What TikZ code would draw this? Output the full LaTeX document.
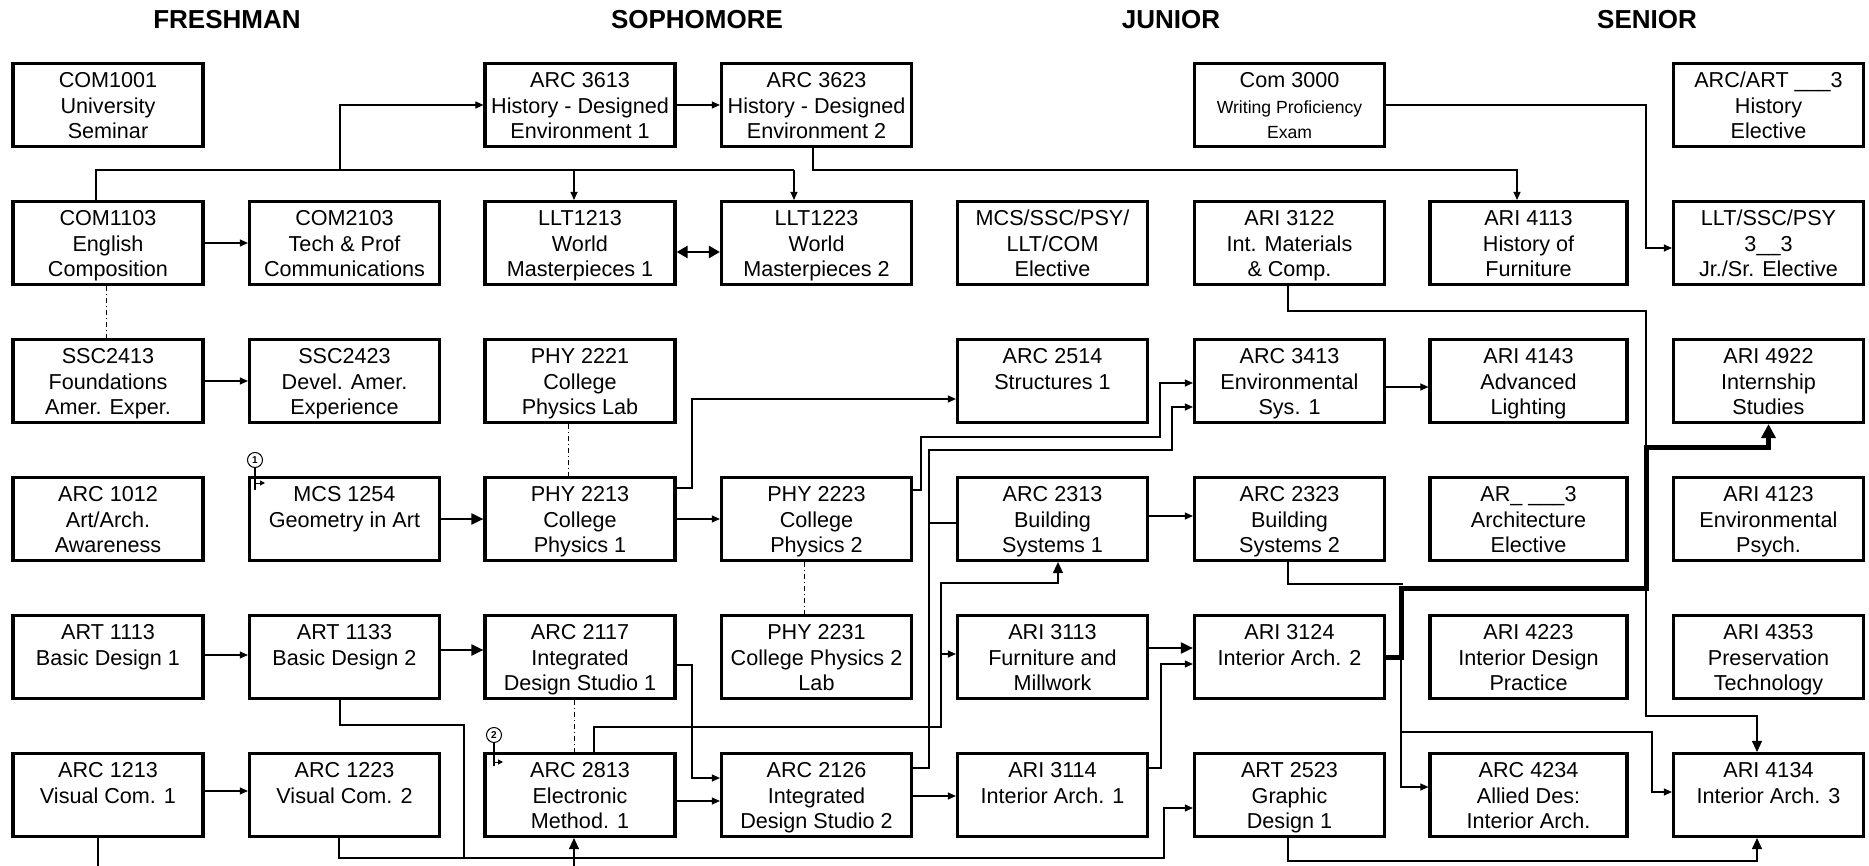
\documentclass[tikz,border=0pt]{standalone}
\usepackage{fontspec}
\setmainfont{Liberation Sans}
\usetikzlibrary{arrows.meta,calc}
\newcommand\crsthree[3]{\rule{0pt}{12pt}#1\\\strut#2\\\strut#3}
\begin{document}
\begin{tikzpicture}[x=0.5pt,y=-0.5pt,
  course/.style={draw,line width=1.6pt,minimum width=95pt,minimum height=40.5pt,inner sep=0pt,align=center,font=\fontsize{10.8}{12.8}\selectfont},
  wide/.style={minimum width=98.5pt},
  hdr/.style={font=\bfseries\fontsize{13}{15}\selectfont},
  ln/.style={line width=0.55pt},
  arw/.style={line width=0.55pt,-{Triangle[length=4pt,width=3.5pt]}},
  arwm/.style={line width=0.55pt,-{Triangle[length=5.5pt,width=5pt]}},
  marw/.style={line width=1pt,-{Triangle[length=6pt,width=5.5pt]}},
  dblarw/.style={line width=1.2pt,{Triangle[length=5.5pt,width=6pt]}-{Triangle[length=5.5pt,width=6pt]}},
  thkarw/.style={line width=2.5pt,-{Triangle[length=7pt,width=7pt]}},
  dd/.style={line width=0.5pt,dash pattern=on 2.5pt off 1.5pt on 0.5pt off 1.5pt},
  circ/.style={circle,draw,line width=0.5pt,inner sep=0pt,minimum size=7.5pt,font=\bfseries\fontsize{5}{6}\selectfont},
  tarw/.style={line width=0.5pt,-{Triangle[length=2.5pt,width=2.5pt]}}
]
\fill[white] (0,0) rectangle (1869,866);
\useasboundingbox (0,0) rectangle (1869,866);
% headers
\node[hdr] (hfr) at (227,20) {FRESHMAN};
\node[hdr] (hso) at (697,20) {SOPHOMORE};
\node[hdr] (hju) at (1171,20) {JUNIOR};
\node[hdr] (hse) at (1647,20) {SENIOR};
% row 1
\node[course] (com1001) at (108,105) {\crsthree{COM1001}{University}{Seminar}};
\node[course] (arc3613) at (580,105) {\crsthree{ARC 3613}{History - Designed}{Environment 1}};
\node[course] (arc3623) at (816.5,105) {\crsthree{ARC 3623}{History - Designed}{Environment 2}};
\node[course] (com3000) at (1289.5,105) {\crsthree{Com 3000}{{\fontsize{8.8}{12.8}\selectfont Writing Proficiency}}{{\fontsize{8.8}{12.8}\selectfont Exam}}};
\node[course] (arcart) at (1768.5,105) {\crsthree{ARC/ART \_\_\_3}{History}{Elective}};
% row 2
\node[course] (com1103) at (108,243) {\crsthree{COM1103}{English}{Composition}};
\node[course] (com2103) at (344.5,243) {\crsthree{COM2103}{Tech \& Prof}{Communications}};
\node[course] (llt1213) at (580,243) {\crsthree{LLT1213}{World}{Masterpieces 1}};
\node[course] (llt1223) at (816.5,243) {\crsthree{LLT1223}{World}{Masterpieces 2}};
\node[course] (mcsel) at (1052.5,243) {\crsthree{MCS/SSC/PSY/}{LLT/COM}{Elective}};
\node[course] (ari3122) at (1289.5,243) {\crsthree{ARI 3122}{Int. Materials}{\& Comp.}};
\node[course,wide] (ari4113) at (1528.5,243) {\crsthree{ARI 4113}{History of}{Furniture}};
\node[course] (lltssc) at (1768.5,243) {\crsthree{LLT/SSC/PSY}{3\_\_3}{Jr./Sr. Elective}};
% row 3
\node[course] (ssc2413) at (108,381) {\crsthree{SSC2413}{Foundations}{Amer. Exper.}};
\node[course] (ssc2423) at (344.5,381) {\crsthree{SSC2423}{Devel. Amer.}{Experience}};
\node[course] (phy2221) at (580,381) {\crsthree{PHY 2221}{College}{Physics Lab}};
\node[course] (arc2514) at (1052.5,381) {\crsthree{ARC 2514}{Structures 1}{}};
\node[course] (arc3413) at (1289.5,381) {\crsthree{ARC 3413}{Environmental}{Sys. 1}};
\node[course,wide] (ari4143) at (1528.5,381) {\crsthree{ARI 4143}{Advanced}{Lighting}};
\node[course] (ari4922) at (1768.5,381) {\crsthree{ARI 4922}{Internship}{Studies}};
% row 4
\node[course] (arc1012) at (108,519) {\crsthree{ARC 1012}{Art/Arch.}{Awareness}};
\node[course] (mcs1254) at (344.5,519) {\crsthree{MCS 1254}{Geometry in Art}{}};
\node[course] (phy2213) at (580,519) {\crsthree{PHY 2213}{College}{Physics 1}};
\node[course] (phy2223) at (816.5,519) {\crsthree{PHY 2223}{College}{Physics 2}};
\node[course] (arc2313) at (1052.5,519) {\crsthree{ARC 2313}{Building}{Systems 1}};
\node[course] (arc2323) at (1289.5,519) {\crsthree{ARC 2323}{Building}{Systems 2}};
\node[course,wide] (arel) at (1528.5,519) {\crsthree{AR\_ \_\_\_3}{Architecture}{Elective}};
\node[course] (ari4123) at (1768.5,519) {\crsthree{ARI 4123}{Environmental}{Psych.}};
% row 5
\node[course] (art1113) at (108,657) {\crsthree{ART 1113}{Basic Design 1}{}};
\node[course] (art1133) at (344.5,657) {\crsthree{ART 1133}{Basic Design 2}{}};
\node[course] (arc2117) at (580,657) {\crsthree{ARC 2117}{Integrated}{Design Studio 1}};
\node[course] (phy2231) at (816.5,657) {\crsthree{PHY 2231}{College Physics 2}{Lab}};
\node[course] (ari3113) at (1052.5,657) {\crsthree{ARI 3113}{Furniture and}{Millwork}};
\node[course] (ari3124) at (1289.5,657) {\crsthree{ARI 3124}{Interior Arch. 2}{}};
\node[course,wide] (ari4223) at (1528.5,657) {\crsthree{ARI 4223}{Interior Design}{Practice}};
\node[course] (ari4353) at (1768.5,657) {\crsthree{ARI 4353}{Preservation}{Technology}};
% row 6
\node[course] (arc1213) at (108,795) {\crsthree{ARC 1213}{Visual Com. 1}{}};
\node[course] (arc1223) at (344.5,795) {\crsthree{ARC 1223}{Visual Com. 2}{}};
\node[course] (arc2813) at (580,795) {\crsthree{ARC 2813}{Electronic}{Method. 1}};
\node[course] (arc2126) at (816.5,795) {\crsthree{ARC 2126}{Integrated}{Design Studio 2}};
\node[course] (ari3114) at (1052.5,795) {\crsthree{ARI 3114}{Interior Arch. 1}{}};
\node[course] (art2523) at (1289.5,795) {\crsthree{ART 2523}{Graphic}{Design 1}};
\node[course,wide] (arc4234) at (1528.5,795) {\crsthree{ARC 4234}{Allied Des:}{Interior Arch.}};
\node[course] (ari4134) at (1768.5,795) {\crsthree{ARI 4134}{Interior Arch. 3}{}};
% circled markers
\node[circ] (cone) at (255,460) {1};
\node[circ] (ctwo) at (494,735) {2};
% ---- connectors ----
\draw[ln] (com1103.north -| 96,0) |- (794,170);
\draw[arw] (340,170) |- (arc3613.west);
\draw[arw] (574,170) -- (llt1213.north -| 574,0);
\draw[arw] (794,170) -- (llt1223.north -| 794,0);
\draw[arw] (arc3613.east) -- (arc3623.west);
\draw[arw] (arc3623.south -| 813,0) |- (1517,170) -- (ari4113.north -| 1517,0);
\draw[arw] (com3000.east) -| (1646,248) -- (lltssc.west |- 0,248);
\draw[arw] (com1103.east) -- (com2103.west);
\draw[dblarw] (llt1213.east |- 0,252) -- (llt1223.west |- 0,252);
\draw[dd] (com1103.south -| 106,0) -- (ssc2413.north -| 106,0);
\draw[arw] (ssc2413.east) -- (ssc2423.west);
\draw[dd] (phy2221.south -| 568,0) -- (phy2213.north -| 568,0);
\draw[arw] (phy2213.east |- 0,488) -| (692,399) -- (arc2514.west |- 0,399);
\draw[marw] (mcs1254.east) -- (phy2213.west);
\draw[arw] (phy2213.east) -- (phy2223.west);
\draw[ln] (cone.south) -- (255,490);
\draw[tarw] (255,483) -- (265,483);
\draw[arw] (phy2223.east |- 0,490) -| (921,437) -| (1160,383) -- (arc3413.west |- 0,383);
\draw[arw] (arc2126.east |- 0,768) -| (929,450) -| (1172,407) -- (arc3413.west |- 0,407);
\draw[ln] (929,523) -- (arc2313.west |- 0,523);
\draw[arwm] (arc2813.north -| 594,0) |- (941,727) |- (1058,583) -- (arc2313.south -| 1058,0);
\draw[arw] (941,654) -- (ari3113.west |- 0,654);
\draw[arw] (arc2126.east |- 0,796) -- (ari3114.west |- 0,796);
\draw[arw] (arc2117.east |- 0,665) -| (692,778) -- (arc2126.west |- 0,778);
\draw[arw] (arc2813.east |- 0,801) -- (arc2126.west |- 0,801);
\draw[dd] (phy2223.south -| 804,0) -- (phy2231.north -| 804,0);
\draw[dd] (arc2117.south -| 574,0) -- (arc2813.north -| 574,0);
\draw[arw] (art1113.east |- 0,655) -- (art1133.west |- 0,655);
\draw[marw] (art1133.east |- 0,650) -- (arc2117.west |- 0,650);
\draw[ln] (art1133.south -| 340,0) |- (464,725) -- (464,858);
\draw[arw] (arc1223.south -| 339,0) |- (1164,858) -- (1164,808) -- (art2523.west |- 0,808);
\draw[ln] (arc1213.south -| 98,0) -- (98,866);
\draw[arwm] (574,866) -- (arc2813.south -| 574,0);
\draw[arw] (arc1213.east |- 0,791) -- (arc1223.west |- 0,791);
\draw[ln] (ctwo.south) -- (494,766);
\draw[tarw] (494,762) -- (503,762);
\draw[marw] (ari3113.east |- 0,648) -- (ari3124.west |- 0,648);
\draw[arw] (ari3114.east |- 0,768) -| (1161,664) -- (ari3124.west |- 0,664);
\draw[arw] (arc2313.east |- 0,516) -- (arc2323.west |- 0,516);
\draw[arw] (arc3413.east |- 0,387) -- (ari4143.west |- 0,387);
\draw[arwm] (ari3122.south -| 1288,0) |- (1646,311) |- (1757,716) -- (ari4134.north -| 1757,0);
\draw[ln] (arc2323.south -| 1288,0) |- (1403,584);
\draw[arw] (1401,657) |- (arc4234.west |- 0,787);
\draw[arw] (1401,732) -| (1652,792) -- (ari4134.west |- 0,792);
\draw[arwm] (art2523.south -| 1288,0) |- (1757,861) -- (ari4134.south -| 1757,0);
\draw[thkarw] (ari3124.east) -| (1401,588) -| (1646,447) -| (ari4922.south);
\end{tikzpicture}
\end{document}
